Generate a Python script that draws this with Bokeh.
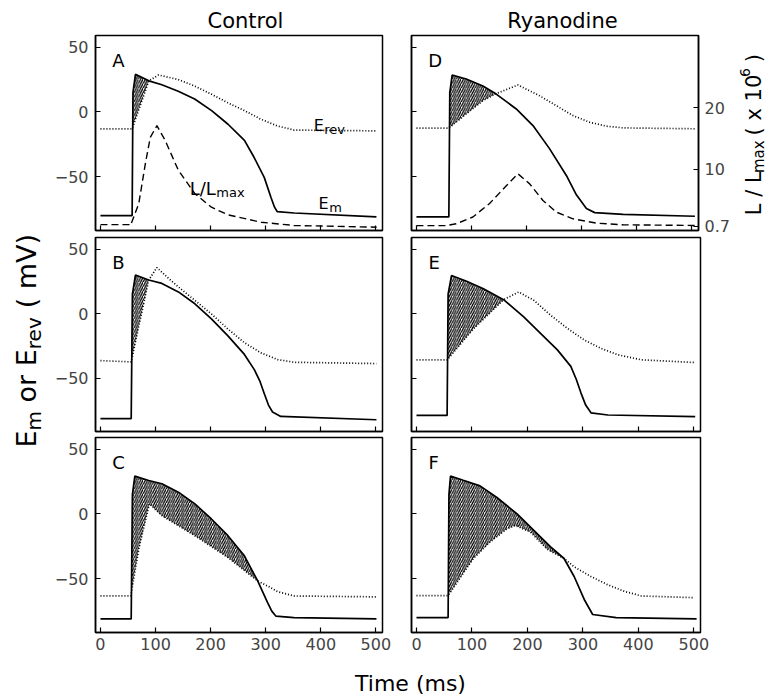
import numpy as np
from math import pi
from bokeh.plotting import figure
from bokeh.layouts import row, column
from bokeh.models import Range1d, LinearAxis, FixedTicker, CustomJSTickFormatter
from bokeh.core.properties import value
from bokeh.embed import file_html
from bokeh.resources import INLINE

# ---------------- data (time in ms, potentials in mV, L/Lmax x 1e6) ----------------
A_em_t = [0, 57.5, 59, 63.5, 87.8, 111.4, 141.2, 171, 201.8, 231.6, 261.4, 278.8, 297.3, 309.6, 316, 321, 351.7, 501]
A_em_v = [-80, -80, 15, 29, 24, 21, 16, 10, 1, -9.5, -22, -35, -50.5, -66, -73.5, -77, -78, -81]
A_ev_t = [0, 57.5, 87.8, 105.3, 141.2, 171, 201.8, 231.6, 261.4, 291.2, 321, 351.7, 501]
A_ev_v = [-13, -13, 24, 28.5, 25, 20, 13.6, 7, 1, -5.6, -10.8, -14, -14.6]
A_L_t = [0, 51.6, 54.5, 69.6, 81.5, 90.5, 102.5, 117.4, 141.5, 171.4, 201.4, 231.4, 291.4, 351.3, 501.3]
A_L_v = [0.95, 0.95, 0.8, 4.4, 10.9, 15.2, 17.1, 14.7, 9.8, 6.0, 3.8, 2.56, 1.35, 0.82, 0.54]

B_em_t = [0, 55.8, 58, 63.5, 87.6, 111.5, 141.5, 171.4, 201.4, 231.4, 261.3, 279.3, 289, 297.3, 305, 312.4, 327.3, 501]
B_em_v = [-81.5, -81.5, 15, 29.9, 26, 23.4, 16.8, 7.6, -4.2, -17.3, -31.7, -43.5, -52, -62, -71, -76.4, -79.8, -82.4]
B_ev_t = [0, 55.8, 87.6, 102.5, 123.5, 141.5, 171.4, 201.4, 231.4, 261.3, 291.4, 321.4, 351.3, 501]
B_ev_v = [-36.5, -37.5, 26, 35.7, 27.3, 20.7, 10.2, -0.3, -12, -22.6, -30.5, -35.7, -37.8, -38.8]

C_em_t = [0, 55.8, 58, 62.4, 87.6, 111.5, 141.5, 171.4, 201.4, 231.4, 261.3, 285.4, 303.4, 311, 318.3, 351.3, 501]
C_em_v = [-81, -81, 15, 29.2, 25.8, 23.3, 16.8, 7.8, -3.9, -16.8, -32.3, -51.7, -68.5, -75, -78.8, -80, -81]
C_ev_t = [0, 55, 69.6, 88.7, 111.5, 171.4, 231.4, 285.4, 303.4, 321.4, 351.3, 501]
C_ev_v = [-63.3, -63.3, -27, 7.8, -1.3, -16.8, -33.6, -51.7, -55.6, -60, -63.3, -64]

D_em_t = [0, 58.8, 60.5, 64.8, 90.3, 120.6, 144.8, 181.2, 211.5, 241.8, 272.1, 290.3, 308.5, 323.6, 375.2, 505.5]
D_em_v = [-81, -81, 15, 28.5, 25.4, 20, 13.8, 2.3, -10.5, -28.5, -49, -64, -74.6, -77.7, -79, -80.5]
D_ev_t = [0, 58.8, 90.3, 120.6, 144, 184.2, 223.6, 254, 284.2, 314.5, 345, 375.2, 505.5]
D_ev_v = [-12.5, -12.5, -1.5, 8.7, 14, 20.8, 12.5, 4.8, -2.8, -8, -11, -12.3, -13]
D_L_t = [0, 54, 72.2, 102.4, 132.7, 163.1, 184.2, 205.5, 229.6, 254, 284.2, 326.7, 375.2, 505.5]
D_L_v = [0.8, 0.8, 1.1, 2.2, 4.4, 7.3, 9.25, 7.6, 4.9, 3.0, 1.9, 1.2, 0.93, 0.82]

E_em_t = [0, 55.2, 57, 63.1, 90.3, 120.6, 157, 193.3, 223.6, 254, 278.2, 288, 296.4, 305, 314.5, 345, 502.4]
E_em_v = [-79, -79, 15, 29.5, 25, 19.2, 10.8, -2.6, -15.4, -28.2, -41, -51, -61.5, -71, -77, -78.7, -80]
E_ev_t = [0, 55.2, 102.4, 157, 184.2, 211.5, 241.8, 272.1, 302.4, 332.7, 363.1, 405.5, 502.4]
E_ev_v = [-36, -36, -12, 10.8, 16.7, 10.3, -1.3, -11.5, -20.5, -27, -32, -35.9, -38]

F_em_t = [0, 57, 58.5, 61.3, 84.2, 114.5, 144.9, 181.3, 211.5, 241.8, 266, 284.2, 302.4, 317.6, 360, 505]
F_em_v = [-80, -80, 15, 29.3, 26, 21.7, 12.7, 0, -12.7, -25.4, -34.4, -48.3, -66, -77.6, -80, -81]
F_ev_t = [0, 57, 102.4, 132.7, 163.1, 178.2, 205.5, 235.8, 266, 284.2, 314.5, 345, 375.2, 405.5, 499.5]
F_ev_v = [-63, -63, -34.4, -21.6, -11.5, -8.9, -14, -27.3, -34.4, -40.7, -48.3, -54.7, -59.8, -63.3, -64.6]

# interval (ms) in which Em lies above Erev (hatched area)
HATCH = {"A": (55, 87.8), "B": (54, 87.6), "C": (54, 285.4),
         "D": (57, 144), "E": (54, 157), "F": (55, 266)}

PANEL_LETTERS = ["A", "B", "C", "D", "E", "F"]
COL_TITLES = ["Control", "Ryanodine"]
X_TICKS = [0, 100, 200, 300, 400, 500]
Y_TICKS = [-50, 0, 50]
L_TICKS = [0.7, 10, 20]

# ---------------- styling ----------------
FONT = "DejaVu Sans"
X_RANGE = (-9, 512)
Y_RANGE = (-91.5, 59)
L_RANGE = (0, 31.8)
CW = {' ': .318, '(': .390, ')': .390, '/': .337, 'L': .557, 'E': .632, 'm': .974,
      'a': .613, 'x': .592, 'r': .411, 'e': .615, 'v': .592, 'o': .612, 'V': .684,
      '.': .318, '6': .636, '1': .636, '0': .636}


def tw(s, size):
    return sum(CW.get(c, .6) for c in s) * size


def base_fig(width, height, xr, yr):
    p = figure(width=width, height=height, x_range=Range1d(*xr), y_range=Range1d(*yr),
               output_backend="svg", toolbar_location=None, min_border=0,
               x_axis_location=None, y_axis_location=None)
    p.grid.visible = False
    p.outline_line_color = None
    p.background_fill_color = None
    p.border_fill_color = None
    return p


def style_axis(ax, ticks, show_labels, standoff):
    ax.ticker = FixedTicker(ticks=ticks)
    ax.minor_tick_line_color = None
    ax.major_tick_in = 5
    ax.major_tick_out = 0
    ax.major_tick_line_width = 1.2
    ax.axis_line_width = 1.5
    ax.major_label_text_font = FONT
    if show_labels:
        ax.major_label_text_font_size = "16px"
        ax.major_label_standoff = standoff
    else:
        ax.formatter = CustomJSTickFormatter(code="return ''")
        ax.major_label_text_font_size = "0px"
        ax.major_label_standoff = 0


def panel(width, height, bl, br, bt, bb, letter, xlabels, ylabels,
          em_t, em_v, ev_t, ev_v, hatch, L_t=None, L_v=None, right_axis=False):
    p = figure(width=width, height=height, x_range=Range1d(*X_RANGE), y_range=Range1d(*Y_RANGE),
               output_backend="svg", toolbar_location=None,
               min_border_left=bl, min_border_right=br, min_border_top=bt, min_border_bottom=bb)
    p.grid.visible = False
    p.outline_line_color = "black"
    p.outline_line_width = 1.5
    p.border_fill_color = None
    style_axis(p.xaxis[0], X_TICKS, xlabels, 5)
    style_axis(p.yaxis[0], Y_TICKS, ylabels, 7)
    if ylabels:
        p.yaxis[0].major_label_overrides = {-50: "\u221250"}
    p.extra_y_ranges = {"L": Range1d(*L_RANGE)}
    if right_axis:
        ra = LinearAxis(y_range_name="L")
        style_axis(ra, L_TICKS, True, 6)
        p.add_layout(ra, "right")

    # hatched area between Em (above) and Erev
    t0, t1 = hatch
    ts = sorted(set([t for t in em_t + ev_t if t0 <= t <= t1] + [t0, t1]))
    em_i = np.interp(ts, em_t, em_v)
    ev_i = np.interp(ts, ev_t, ev_v)
    p.varea(x=ts, y1=ev_i, y2=np.maximum(em_i, ev_i), fill_color=None,
            hatch_pattern="/", hatch_color="black", hatch_scale=4.6, hatch_weight=1.3)

    p.line(ev_t, ev_v, line_color="black", line_width=1.7, line_dash="1 2")
    p.line(em_t, em_v, line_color="black", line_width=1.7)
    if L_t is not None:
        p.line(L_t, L_v, line_color="black", line_width=1.4, line_dash="7 4", y_range_name="L")

    p.text(x=[21.6], y=[39.7], text=[letter], text_font=value(FONT), text_font_size="18px",
           text_align="left", text_baseline="alphabetic", text_color="black")
    return p


def htext(p, x, y, pieces):
    # pieces: (text, size, vertical shift px, gap px before)
    off = 0
    for txt, size, dy, gap in pieces:
        off += gap
        p.text(x=[x], y=[y], text=[txt], x_offset=off, y_offset=dy, text_font=value(FONT),
               text_font_size=f"{size}px", text_align="left", text_baseline="alphabetic",
               text_color="black")
        off += tw(txt, size)


def vtext(p, x, y, pieces):
    # rotated text reading bottom to top; pieces: (text, size, shift px to the right, gap px before)
    cur = y
    for txt, size, dx, gap in pieces:
        cur -= gap
        p.text(x=[x + dx], y=[cur], text=[txt], angle=pi / 2, text_font=value(FONT),
               text_font_size=f"{size}px", text_align="left", text_baseline="alphabetic",
               text_color="black")
        cur -= tw(txt, size)


# ---------------- layout geometry (page pixels) ----------------
LW, RW = 341, 340          # left / right column figure widths
fA = panel(LW, 203, 42, 10, 2, 6, "A", False, True, A_em_t, A_em_v, A_ev_t, A_ev_v, HATCH["A"], A_L_t, A_L_v)
fB = panel(LW, 198, 42, 10, 1, 3, "B", False, True, B_em_t, B_em_v, B_ev_t, B_ev_v, HATCH["B"])
fC = panel(LW, 228, 42, 10, 3, 30, "C", True, True, C_em_t, C_em_v, C_ev_t, C_ev_v, HATCH["C"])
fD = panel(RW, 203, 19, 32, 2, 6, "D", False, False, D_em_t, D_em_v, D_ev_t, D_ev_v, HATCH["D"], D_L_t, D_L_v, right_axis=True)
fE = panel(RW, 198, 19, 32, 1, 3, "E", False, False, E_em_t, E_em_v, E_ev_t, E_ev_v, HATCH["E"])
fF = panel(RW, 228, 19, 32, 3, 30, "F", True, False, F_em_t, F_em_v, F_ev_t, F_ev_v, HATCH["F"])

# curve labels in panel A
htext(fA, 387, -10.5, [("E", 16, 0, 0), ("rev", 13, 4, 0.5)])
htext(fA, 162, -59.1, [("L/L", 18, 0, 0), ("max", 13, 4, 0.5)])
htext(fA, 396, -70.7, [("E", 16, 0, 0), ("m", 13, 4, 0.5)])

# column titles
fTop = base_fig(719, 33, (51, 770), (33, 0))
for txt, xc in zip(COL_TITLES, [245, 562]):
    fTop.text(x=[xc], y=[20], text=[txt], text_font=value(FONT), text_font_size="21px",
              text_align="center", text_baseline="middle", text_color="black")

# x axis title
fT = base_fig(719, 36, (51, 770), (698, 662))
fT.text(x=[410], y=[683], text=["Time (ms)"], text_font=value(FONT), text_font_size="22px",
        text_align="center", text_baseline="middle", text_color="black")

# left axis title
fL = base_fig(51, 698, (0, 51), (698, 0))
vtext(fL, 26, 447, [("E", 27, 0, 0), ("m", 20, 7, 0), ("or E", 27, 0, 8.5),
                    ("rev", 20, 7, 0), ("( mV)", 27, 0, 8.5)])

# right axis title
fR = base_fig(38, 203, (732, 770), (236, 33))
vtext(fR, 753, 220, [("L / L", 21, 0, 0), ("max", 15, 5, 0), ("( x 10", 21, 0, 6.5),
                     ("6", 14, -9, 0), (")", 21, 0, 6.5)])

layout = row(fL, column(fTop, row(fA, fD, fR), row(fB, fE), row(fC, fF), fT))

open("out.html", "w").write(file_html(layout, INLINE))
